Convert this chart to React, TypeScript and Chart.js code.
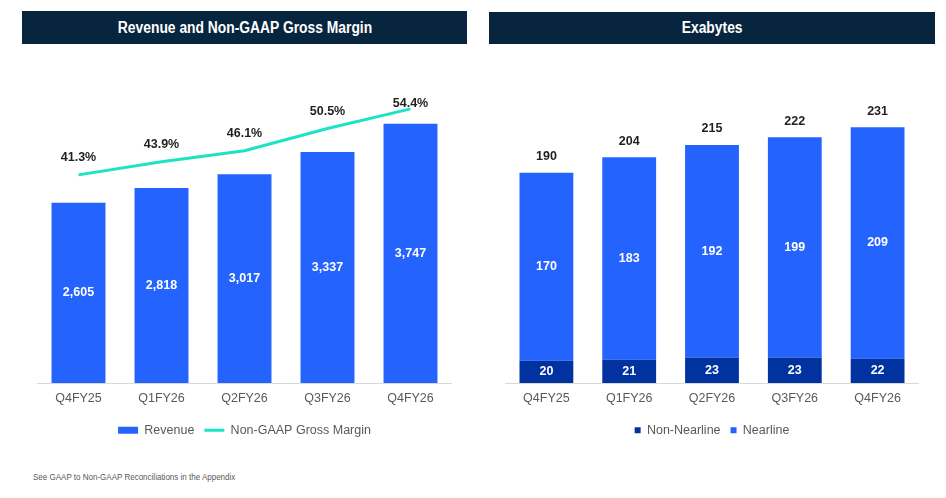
import React, { useEffect, useRef } from 'react';
import { Chart, registerables } from 'chart.js';

Chart.register(...registerables);

const FONT = "'Liberation Sans', Arial, Helvetica, sans-serif";
const BLUE = '#2563FF';
const NAVY = '#0033A0';
const TEAL = '#1DE3C6';
const GREY = '#595959';
const TITLE_BG = '#08253F';

const quarters = ['Q4FY25', 'Q1FY26', 'Q2FY26', 'Q3FY26', 'Q4FY26'];
const revenue = [2605, 2818, 3017, 3337, 3747];
const grossMargin = [41.3, 43.9, 46.1, 50.5, 54.4];
const nonNearline = [20, 21, 23, 23, 22];
const nearline = [170, 183, 192, 199, 209];
const exabyteTotals = [190, 204, 215, 222, 231];

const LABEL_FONT = `bold 12.5px ${FONT}`;

const xScale = {
  grid: { display: false, drawTicks: false },
  border: { display: true, color: '#D9D9D9', width: 1 },
  ticks: { color: GREY, font: { family: FONT, size: 12.5 }, padding: 8 },
};

const revenueLabels = {
  id: 'revenueLabels',
  afterDatasetsDraw(chart: any) {
    const { ctx, chartArea } = chart;
    ctx.save();
    ctx.font = LABEL_FONT;
    ctx.textAlign = 'center';
    ctx.textBaseline = 'middle';
    chart.getDatasetMeta(0).data.forEach((el: any, i: number) => {
      const { x, y, base } = el.getProps(['x', 'y', 'base'], true);
      ctx.fillStyle = '#FFFFFF';
      ctx.fillText(revenue[i].toLocaleString('en-US'), x, (y + base) / 2);
    });
    chart.getDatasetMeta(1).data.forEach((pt: any, i: number) => {
      ctx.fillStyle = '#1F1F1F';
      ctx.fillText(grossMargin[i].toFixed(1) + '%', pt.x, Math.max(pt.y - 17, chartArea.top + 7));
    });
    ctx.restore();
  },
};

const exabyteLabels = {
  id: 'exabyteLabels',
  afterDatasetsDraw(chart: any) {
    const { ctx } = chart;
    ctx.save();
    ctx.font = LABEL_FONT;
    ctx.textAlign = 'center';
    ctx.textBaseline = 'middle';
    [nonNearline, nearline].forEach((vals, d) => {
      chart.getDatasetMeta(d).data.forEach((el: any, i: number) => {
        const { x, y, base } = el.getProps(['x', 'y', 'base'], true);
        ctx.fillStyle = '#FFFFFF';
        ctx.fillText(String(vals[i]), x, (y + base) / 2);
      });
    });
    chart.getDatasetMeta(1).data.forEach((el: any, i: number) => {
      const { x, y } = el.getProps(['x', 'y'], true);
      ctx.fillStyle = '#1F1F1F';
      ctx.fillText(String(exabyteTotals[i]), x, y - 16);
    });
    ctx.restore();
  },
};

const LAYOUT = { padding: { top: 37, bottom: 0.5, left: 0, right: 0 } };

function RevenueChart() {
  const ref = useRef<HTMLCanvasElement>(null);
  useEffect(() => {
    if (!ref.current) return;
    const chart = new Chart(ref.current, {
      type: 'bar',
      data: {
        labels: quarters,
        datasets: [
          {
            type: 'bar',
            label: 'Revenue',
            data: revenue,
            backgroundColor: BLUE,
            borderWidth: 0,
            categoryPercentage: 1,
            barPercentage: 0.65,
            yAxisID: 'y',
          },
          {
            type: 'line',
            label: 'Non-GAAP Gross Margin',
            data: grossMargin,
            borderColor: TEAL,
            backgroundColor: TEAL,
            borderWidth: 3,
            pointRadius: 0,
            tension: 0,
            yAxisID: 'y2',
          },
        ] as any,
      },
      options: {
        responsive: false,
        animation: false,
        layout: LAYOUT,
        scales: {
          x: xScale as any,
          y: { display: false, min: 0, max: 4133 },
          y2: { display: false, min: 0, max: 56.75 },
        },
        plugins: {
          tooltip: { enabled: false },
          legend: {
            position: 'bottom',
            labels: {
              usePointStyle: true,
              pointStyleWidth: 20,
              boxHeight: 7,
              padding: 10,
              color: GREY,
              font: { family: FONT, size: 12.5 },
              generateLabels: (c: any) =>
                Chart.defaults.plugins.legend.labels.generateLabels(c).map((l: any, i: number) =>
                  i === 0
                    ? { ...l, pointStyle: 'rect', lineWidth: 0 }
                    : { ...l, pointStyle: 'line', lineWidth: 3, strokeStyle: TEAL }
                ),
            },
          },
        },
      },
      plugins: [revenueLabels],
    });
    return () => chart.destroy();
  }, []);
  return (
    <canvas
      ref={ref}
      width={415}
      height={387}
      style={{ position: 'absolute', left: 37, top: 60, width: 415, height: 387 }}
    />
  );
}

function ExabytesChart() {
  const ref = useRef<HTMLCanvasElement>(null);
  useEffect(() => {
    if (!ref.current) return;
    const chart = new Chart(ref.current, {
      type: 'bar',
      data: {
        labels: quarters,
        datasets: [
          {
            label: 'Non-Nearline',
            data: nonNearline,
            backgroundColor: NAVY,
            borderWidth: 0,
            categoryPercentage: 1,
            barPercentage: 0.65,
          },
          {
            label: 'Nearline',
            data: nearline,
            backgroundColor: BLUE,
            borderWidth: 0,
            categoryPercentage: 1,
            barPercentage: 0.65,
          },
        ],
      },
      options: {
        responsive: false,
        animation: false,
        layout: LAYOUT,
        scales: {
          x: { ...(xScale as any), stacked: true },
          y: { display: false, stacked: true, min: 0, max: 258.4 },
        },
        plugins: {
          tooltip: { enabled: false },
          legend: {
            position: 'bottom',
            labels: {
              boxWidth: 6,
              boxHeight: 6,
              padding: 10,
              color: GREY,
              font: { family: FONT, size: 12.5 },
            },
          },
        },
      },
      plugins: [exabyteLabels],
    });
    return () => chart.destroy();
  }, []);
  return (
    <canvas
      ref={ref}
      width={414}
      height={387}
      style={{ position: 'absolute', left: 505, top: 60, width: 414, height: 387 }}
    />
  );
}

const titleStyle: React.CSSProperties = {
  position: 'absolute',
  background: TITLE_BG,
  color: '#FFFFFF',
  fontFamily: FONT,
  fontWeight: 'bold',
  fontSize: 16,
  textAlign: 'center',
  whiteSpace: 'nowrap',
};

const squeeze: React.CSSProperties = {
  display: 'inline-block',
  transform: 'scaleX(0.865)',
};

export default function App() {
  return (
    <div
      style={{
        position: 'absolute',
        left: 0,
        top: 0,
        width: 946,
        height: 498,
        background: '#FFFFFF',
        overflow: 'hidden',
      }}
    >
      <div style={{ ...titleStyle, left: 22, top: 11, width: 445, height: 33, lineHeight: '33px' }}>
        <span style={squeeze}>Revenue and Non-GAAP Gross Margin</span>
      </div>
      <div style={{ ...titleStyle, left: 489, top: 12, width: 446, height: 32, lineHeight: '32px' }}>
        <span style={squeeze}>Exabytes</span>
      </div>
      <RevenueChart />
      <ExabytesChart />
      <div
        style={{
          position: 'absolute',
          left: 33,
          top: 471,
          fontFamily: FONT,
          fontSize: 9,
          lineHeight: '12px',
          color: GREY,
          whiteSpace: 'nowrap',
          transform: 'scaleX(0.89)',
          transformOrigin: 'left center',
        }}
      >
        See GAAP to Non-GAAP Reconciliations in the Appendix
      </div>
    </div>
  );
}
